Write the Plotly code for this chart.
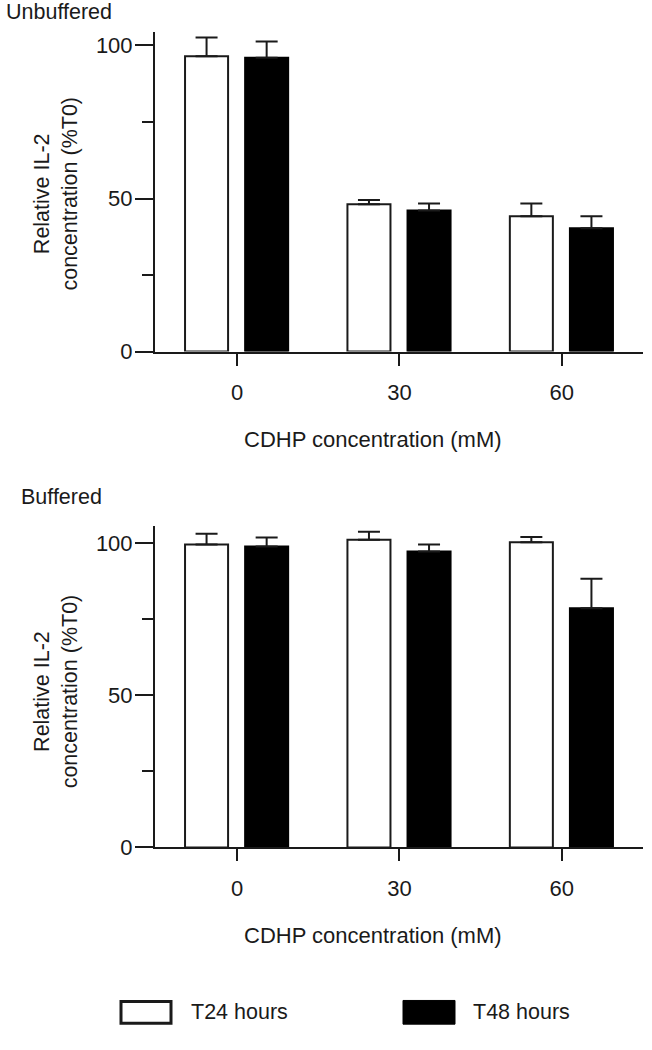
import plotly.graph_objects as go

W, H = 652, 1050

# data
doses = ["0", "30", "60"]
groups = ["Unbuffered", "Buffered"]
series = ["T24 hours", "T48 hours"]

unbuf_t24 = [96.5, 48.1, 44.2]
unbuf_t24_err = [6.1, 1.4, 4.2]
unbuf_t48 = [96.0, 46.1, 40.3]
unbuf_t48_err = [5.3, 2.3, 3.9]

buf_t24 = [99.6, 101.1, 100.3]
buf_t24_err = [3.5, 2.7, 1.7]
buf_t48 = [98.9, 97.3, 78.6]
buf_t48_err = [3.0, 2.3, 9.7]

FONT = "Liberation Sans, Arial, sans-serif"
INK = "#1a1a1a"


def px_x(p):
    return p / W


def px_y(p):
    return 1 - p / H


xpos = list(range(len(doses)))

fig = go.Figure()


def add_pair(t24, t24_err, t48, t48_err, xa, ya):
    fig.add_trace(go.Bar(
        x=xpos, y=t24, name=series[0], xaxis=xa, yaxis=ya,
        width=0.265, offset=-0.32,
        marker=dict(color="white", line=dict(color=INK, width=2)),
        error_y=dict(type="data", array=t24_err, arrayminus=[0] * len(t24),
                     symmetric=False, color=INK, thickness=2, width=11),
        showlegend=False,
    ))
    fig.add_trace(go.Bar(
        x=xpos, y=t48, name=series[1], xaxis=xa, yaxis=ya,
        width=0.265, offset=0.05,
        marker=dict(color="black", line=dict(color="black", width=2)),
        error_y=dict(type="data", array=t48_err, arrayminus=[0] * len(t48),
                     symmetric=False, color=INK, thickness=2, width=11),
        showlegend=False,
    ))


add_pair(unbuf_t24, unbuf_t24_err, unbuf_t48, unbuf_t48_err, "x", "y")
add_pair(buf_t24, buf_t24_err, buf_t48, buf_t48_err, "x2", "y2")

xdom = [px_x(155), px_x(643)]


def xaxis_cfg(anchor):
    return dict(
        domain=xdom, anchor=anchor, range=[-0.505, 2.5],
        tickmode="array", tickvals=xpos, ticktext=doses,
        ticks="outside", ticklen=12, tickwidth=2, tickcolor=INK,
        ticklabelstandoff=8,
        tickfont=dict(size=22),
        showline=True, linewidth=2, linecolor=INK,
        showgrid=False, zeroline=False, fixedrange=True,
    )


def yaxis_cfg(anchor, dom, top):
    return dict(
        domain=dom, anchor=anchor, range=[0, top],
        tickmode="array", tickvals=[0, 50, 100],
        ticks="outside", ticklen=18, tickwidth=2, tickcolor=INK,
        minor=dict(tickmode="array", tickvals=[25, 75], ticks="outside",
                   ticklen=11, tickwidth=2, tickcolor=INK),
        ticklabelstandoff=-2,
        tickfont=dict(size=22),
        showline=True, linewidth=2, linecolor=INK,
        showgrid=False, zeroline=False, fixedrange=True,
    )


ytitle = "Relative IL-2<br>concentration (%T0)"
xtitle = "CDHP concentration (mM)"

annotations = [
    dict(text=groups[0], x=px_x(4), y=px_y(12), xanchor="left", yanchor="middle"),
    dict(text=groups[1], x=px_x(19), y=px_y(503), xanchor="left", yanchor="middle"),
    dict(text=ytitle, x=px_x(56), y=px_y(196), textangle=-90,
         xanchor="center", yanchor="middle"),
    dict(text=ytitle, x=px_x(56), y=px_y(700), textangle=-90,
         xanchor="center", yanchor="middle"),
    dict(text=xtitle, x=px_x(373), y=px_y(445), xanchor="center", yanchor="middle",
         font=dict(size=22)),
    dict(text=xtitle, x=px_x(373), y=px_y(947), xanchor="center", yanchor="middle",
         font=dict(size=22)),
    dict(text=series[0], x=px_x(189), y=px_y(1025), xanchor="left", yanchor="middle"),
    dict(text=series[1], x=px_x(471), y=px_y(1025), xanchor="left", yanchor="middle"),
]
for a in annotations:
    f = dict(family=FONT, size=21.5, color=INK)
    f.update(a.get("font", {}))
    a.update(xref="paper", yref="paper", showarrow=False, font=f)

# legend swatches
shapes = [
    dict(type="rect", xref="paper", yref="paper",
         x0=px_x(121), x1=px_x(171), y0=px_y(1036), y1=px_y(1014),
         fillcolor="white", line=dict(color=INK, width=3)),
    dict(type="rect", xref="paper", yref="paper",
         x0=px_x(403), x1=px_x(455), y0=px_y(1037), y1=px_y(1013),
         fillcolor="black", line=dict(color="black", width=1)),
]

fig.update_layout(
    width=W, height=H,
    margin=dict(l=0, r=0, t=0, b=0),
    paper_bgcolor="white", plot_bgcolor="white",
    font=dict(family=FONT, size=21, color=INK),
    showlegend=False,
    xaxis=xaxis_cfg("y"),
    yaxis=yaxis_cfg("x", [px_y(356), px_y(32)], (356 - 32) / 3.1),
    xaxis2=xaxis_cfg("y2"),
    yaxis2=yaxis_cfg("x2", [px_y(858), px_y(533)], (858 - 533) / 3.08),
    annotations=annotations,
    shapes=shapes,
)

# pin the figure to the page origin, so the body margin cannot shift it
pin = """
document.body.style.margin = '0';
var gd = document.getElementsByClassName('plotly-graph-div')[0];
gd.style.position = 'fixed';
gd.style.left = '0px';
gd.style.top = '0px';
"""
fig.write_html("out.html", config={"displayModeBar": False}, post_script=pin)
